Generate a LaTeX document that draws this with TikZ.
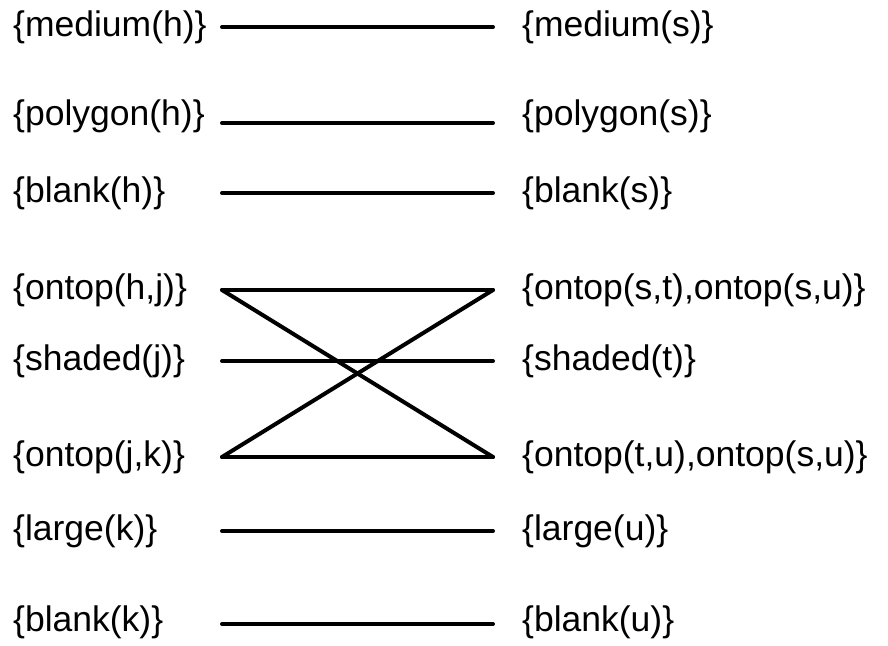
\documentclass[tikz,border=0pt]{standalone}
\usepackage{fontspec}
\setmainfont{Liberation Sans}
\begin{document}
\begin{tikzpicture}[x=1pt,y=-1pt,
  lbl/.style={anchor=west,inner sep=0pt,font=\fontsize{35.5}{40}\selectfont},
  link/.style={line width=4pt,line cap=round,black}]
\useasboundingbox (0,0) rectangle (888,645);
% left labels
\node[lbl] (a1) at (13,27)  {\{medium(h)\}};
\node[lbl] (a2) at (13,116) {\{polygon(h)\}};
\node[lbl] (a3) at (13,193) {\{blank(h)\}};
\node[lbl] (a4) at (13,290) {\{ontop(h,j)\}};
\node[lbl] (a5) at (13,361) {\{shaded(j)\}};
\node[lbl] (a6) at (13,457) {\{ontop(j,k)\}};
\node[lbl] (a7) at (13,531) {\{large(k)\}};
\node[lbl] (a8) at (13,622) {\{blank(k)\}};
% right labels
\node[lbl] (b1) at (522,27)  {\{medium(s)\}};
\node[lbl] (b2) at (522,116) {\{polygon(s)\}};
\node[lbl] (b3) at (522,193) {\{blank(s)\}};
\node[lbl] (b4) at (522,290) {\{ontop(s,t),ontop(s,u)\}};
\node[lbl] (b5) at (522,361) {\{shaded(t)\}};
\node[lbl] (b6) at (522,457) {\{ontop(t,u),ontop(s,u)\}};
\node[lbl] (b7) at (522,531) {\{large(u)\}};
\node[lbl] (b8) at (522,622) {\{blank(u)\}};
% line end points
\foreach \i/\yy in {1/27,2/123,3/193,4/290,5/361,6/457,7/531,8/624}{
  \coordinate (l\i) at (222,\yy);
  \coordinate (r\i) at (493,\yy);
}
\draw[link] (l1) -- (r1);
\draw[link] (l2) -- (r2);
\draw[link] (l3) -- (r3);
\draw[link] (l4) -- (r4);
\draw[link] (l4) -- (r6);
\draw[link] (l5) -- (r5);
\draw[link] (l6) -- (r4);
\draw[link] (l6) -- (r6);
\draw[link] (l7) -- (r7);
\draw[link] (l8) -- (r8);
\end{tikzpicture}
\end{document}
